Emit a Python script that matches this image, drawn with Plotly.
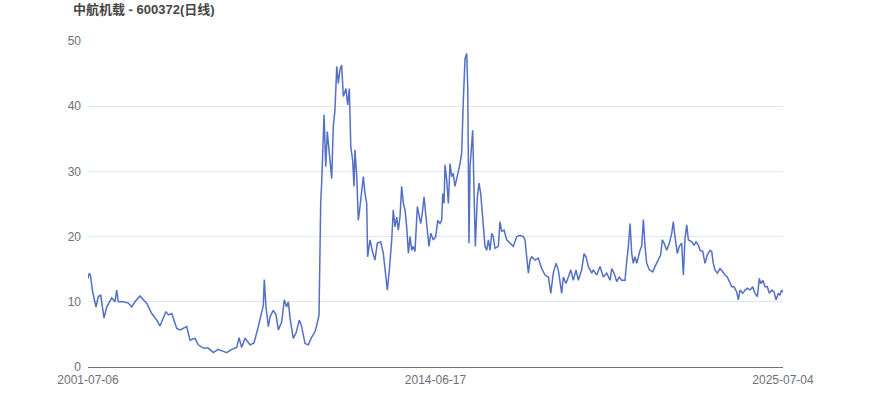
import plotly.graph_objects as go

# trading-day index of each sampled close (0 = first day, last = last day)
day = [0, 11, 21, 39, 67, 86, 106, 134, 156, 198, 225, 240, 253, 295, 337, 365, 392, 434, 462, 490,
       532, 574, 601, 629, 651, 671, 699, 741, 768, 824, 852, 893, 921, 963, 1005, 1046, 1088, 1158, 1200, 1242,
       1261, 1283, 1311, 1353, 1386, 1422, 1450, 1464, 1472, 1486, 1506, 1520, 1547, 1570, 1589, 1617, 1639, 1659, 1673, 1687,
       1714, 1737, 1764, 1784, 1812, 1840, 1868, 1895, 1910, 1929, 1943, 1951, 1971, 1985, 1998, 2015, 2035, 2048, 2062, 2077,
       2090, 2104, 2118, 2132, 2154, 2168, 2182, 2194, 2210, 2221, 2229, 2244, 2257, 2271, 2285, 2299, 2313, 2327, 2335, 2355,
       2377, 2396, 2416, 2444, 2466, 2480, 2499, 2516, 2536, 2549, 2563, 2578, 2591, 2605, 2619, 2633, 2647, 2661, 2675, 2689,
       2703, 2716, 2730, 2750, 2764, 2778, 2791, 2806, 2822, 2833, 2847, 2862, 2883, 2903, 2920, 2939, 2953, 2962, 2973, 2981,
       2995, 3009, 3023, 3037, 3050, 3064, 3079, 3092, 3106, 3120, 3134, 3148, 3162, 3171, 3181, 3190, 3204, 3212, 3223, 3234,
       3251, 3265, 3279, 3296, 3315, 3329, 3343, 3357, 3371, 3384, 3398, 3426, 3440, 3454, 3474, 3496, 3524, 3551, 3580, 3607,
       3635, 3649, 3663, 3677, 3691, 3705, 3732, 3760, 3788, 3816, 3844, 3864, 3885, 3908, 3927, 3941, 3955, 3969, 3991, 4011,
       4031, 4052, 4075, 4094, 4122, 4142, 4158, 4178, 4206, 4219, 4248, 4275, 4303, 4331, 4359, 4373, 4392, 4415, 4436, 4456,
       4484, 4498, 4512, 4526, 4540, 4553, 4567, 4582, 4595, 4609, 4623, 4637, 4651, 4665, 4687, 4715, 4734, 4762, 4782, 4795,
       4810, 4832, 4854, 4874, 4887, 4901, 4921, 4937, 4957, 4971, 4985, 4999, 5013, 5041, 5060, 5077, 5096, 5110, 5133, 5152,
       5171, 5194, 5208, 5221, 5235, 5255, 5277, 5300, 5319, 5338, 5355, 5375, 5394, 5417, 5430, 5444, 5467, 5486, 5505, 5528,
       5550, 5569, 5589, 5605, 5617, 5634, 5653, 5672, 5689, 5709, 5728, 5745, 5764, 5778, 5792, 5803]

close = [13.6, 14.4, 14.0, 11.5, 9.2, 10.8, 11.0, 7.5, 9.2, 10.6, 10.0, 11.8, 10.0, 10.0, 9.8, 9.2, 10.0, 10.9, 10.3, 9.8,
         8.2, 7.2, 6.3, 7.5, 8.5, 8.0, 8.2, 5.9, 5.7, 6.2, 4.1, 4.4, 3.4, 2.9, 2.9, 2.2, 2.7, 2.2, 2.7, 3.0,
         4.5, 3.0, 4.4, 3.4, 3.7, 6.2, 8.7, 9.5, 13.4, 9.2, 6.2, 7.7, 8.7, 8.0, 5.7, 6.9, 10.3, 9.2, 10.0, 7.5,
         4.4, 5.2, 7.2, 6.2, 3.6, 3.4, 4.6, 5.4, 6.4, 8.0, 25.1, 28.2, 38.7, 30.7, 36.1, 32.8, 28.9, 36.9, 39.4, 46.1,
         43.5, 45.6, 46.3, 41.5, 42.7, 40.2, 42.7, 33.8, 31.7, 27.7, 33.3, 29.2, 22.5, 24.6, 27.1, 29.2, 26.6, 25.1, 16.9, 19.5,
         17.6, 16.4, 19.0, 19.2, 17.4, 15.4, 11.8, 14.9, 19.5, 24.1, 21.5, 23.0, 21.0, 23.0, 27.7, 25.1, 24.1, 21.5, 17.4, 20.0,
         17.9, 18.5, 17.7, 24.6, 23.0, 22.0, 23.6, 26.1, 23.0, 20.5, 18.5, 20.5, 19.5, 20.0, 22.5, 22.0, 22.5, 26.6, 25.1, 31.0,
         28.7, 25.1, 31.2, 29.2, 29.7, 27.7, 29.2, 30.0, 31.2, 32.8, 41.0, 47.3, 48.1, 42.5, 19.0, 30.7, 34.3, 36.3, 27.1, 18.5,
         26.1, 28.2, 26.6, 23.0, 18.5, 17.9, 19.5, 17.9, 20.5, 20.0, 18.2, 18.5, 22.3, 20.8, 21.0, 19.5, 19.0, 18.5, 20.0, 20.2,
         20.0, 19.5, 16.9, 14.4, 16.4, 16.9, 16.4, 16.7, 15.1, 14.1, 13.8, 11.3, 14.4, 15.9, 14.9, 13.3, 11.3, 13.8, 12.8, 13.8,
         14.9, 13.3, 14.9, 13.3, 14.9, 17.4, 16.9, 15.4, 14.4, 14.9, 14.1, 15.4, 13.8, 14.4, 13.3, 15.1, 14.4, 13.1, 13.8, 13.3,
         13.3, 16.2, 18.5, 22.0, 17.4, 15.9, 16.9, 15.9, 16.9, 17.9, 18.5, 22.6, 18.5, 15.9, 14.9, 14.6, 15.4, 16.4, 17.2, 19.5,
         19.0, 17.9, 19.0, 20.5, 22.3, 20.0, 17.4, 18.5, 19.0, 14.1, 19.7, 21.8, 19.5, 19.2, 18.7, 19.2, 18.7, 17.9, 17.7, 15.9,
         17.2, 17.9, 17.7, 15.9, 14.9, 14.4, 15.1, 14.6, 14.1, 13.8, 13.1, 12.3, 12.3, 11.5, 10.3, 11.8, 11.3, 11.8, 12.1, 11.8,
         12.3, 11.3, 10.8, 13.6, 12.8, 13.3, 12.3, 12.3, 11.3, 11.8, 11.5, 10.3, 11.3, 11.0, 11.8, 11.5]

tick_labels = ["2001-07-06", "2014-06-17", "2025-07-04"]
title_text = "中航机载 - 600372(日线)"

FONT = "Liberation Sans, Arial, Noto Sans CJK SC, sans-serif"

fig = go.Figure()
fig.add_trace(go.Scatter(
    x=day, y=close, mode="lines",
    line=dict(color="#5470C6", width=1.5),
    hoverinfo="skip",
))

last = day[-1]
fig.update_layout(
    width=870, height=417,
    margin=dict(l=88, r=87, t=41, b=50, autoexpand=False),
    paper_bgcolor="white", plot_bgcolor="white",
    showlegend=False,
    hovermode=False,
    font=dict(family=FONT, size=12, color="#6E7079"),
    title=dict(
        text="<b>" + title_text + "</b>",
        x=73 / 870, xref="container", xanchor="left",
        y=1 - 9 / 417, yref="container", yanchor="middle",
        font=dict(family=FONT, size=13, color="#464646"),
    ),
    xaxis=dict(
        range=[0, last],
        tickvals=[0, last / 2, last],
        ticktext=tick_labels,
        showgrid=False, zeroline=False,
        showline=True, linecolor="#6E7079", linewidth=1,
        ticks="", ticklabelstandoff=2,
        tickfont=dict(size=12, color="#6E7079"),
    ),
    yaxis=dict(
        range=[0, 50],
        tickvals=[0, 10, 20, 30, 40, 50],
        showgrid=True, gridcolor="#E0E6F1", gridwidth=1,
        zeroline=False, showline=False, ticks="",
        ticklabelstandoff=6,
        tickfont=dict(size=12, color="#6E7079"),
    ),
)

fig.write_html("out.html", config={"displayModeBar": False, "staticPlot": True},
               post_script="document.body.style.margin='0px';")
